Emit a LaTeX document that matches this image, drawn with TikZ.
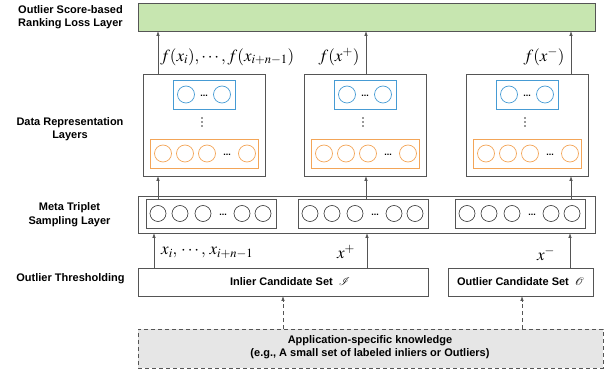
\documentclass[tikz,border=0pt]{standalone}
\usepackage{mathptmx}
\usepackage[no-math]{fontspec}
\setmainfont{Liberation Sans}
\usetikzlibrary{arrows.meta}
\definecolor{lgreen}{RGB}{199,230,176}
\definecolor{bluec}{RGB}{70,155,212}
\definecolor{orangec}{RGB}{243,165,88}
\definecolor{edgec}{RGB}{85,85,85}
\definecolor{dashfill}{RGB}{230,230,230}
\tikzset{
  box/.style={draw=edgec, line width=0.8pt, inner sep=0pt, outer sep=0pt, anchor=north west},
  bcirc/.style={circle, draw=bluec, line width=0.7pt, minimum size=17pt, inner sep=0pt},
  ocirc/.style={circle, draw=orangec, line width=0.7pt, minimum size=17pt, inner sep=0pt},
  kcirc/.style={circle, draw=black!80, line width=0.6pt, minimum size=16pt, inner sep=0pt},
  vdot/.style={circle, fill=black!80, minimum size=1.8pt, inner sep=0pt},
  arr/.style={draw=edgec, line width=0.8pt, -{Latex[length=5pt,width=3.6pt]}},
  darr/.style={arr, dash pattern=on 4pt off 3pt},
  lbl/.style={font=\fontsize{11}{13.5}\selectfont\bfseries, align=center, inner sep=0pt},
  mlbl/.style={font=\fontsize{17}{19}\selectfont, inner sep=0pt},
  dots/.style={font=\fontsize{9}{9}\selectfont\bfseries, inner sep=0pt, anchor=base},
}
\newcommand\rectnode[6]{\node[box,#6, minimum width={(#4)-(#2)}, minimum height={(#5)-(#3)}] (#1) at ({#2},{#3}) {};}
\newcommand\datarep[2]{%
  \rectnode{dr#1}{#2}{74}{#2+122}{176}{}
  \rectnode{bl#1}{#2+30}{80}{#2+92}{109}{draw=bluec}
  \node[bcirc] (bl#1a) at (#2+43,94.5) {};
  \node[bcirc] (bl#1b) at (#2+79,94.5) {};
  \node[dots] (bl#1d) at (#2+61,97) {...};
  \node[vdot] (vd#1a) at (#2+59,118) {};
  \node[vdot] (vd#1b) at (#2+59,122) {};
  \node[vdot] (vd#1c) at (#2+59,126) {};
  \rectnode{or#1}{#2+7}{139}{#2+115}{168}{draw=orangec}
  \node[ocirc] (or#1a) at (#2+20,153.5) {};
  \node[ocirc] (or#1b) at (#2+42,153.5) {};
  \node[ocirc] (or#1c) at (#2+64,153.5) {};
  \node[dots] (or#1d) at (#2+84,156) {...};
  \node[ocirc] (or#1e) at (#2+104,153.5) {};
}
\newcommand\metabox[2]{%
  \rectnode{mt#1}{#2}{199}{#2+130}{228}{}
  \node[kcirc] (mt#1a) at (#2+12,213.5) {};
  \node[kcirc] (mt#1b) at (#2+34,213.5) {};
  \node[kcirc] (mt#1c) at (#2+57,213.5) {};
  \node[dots] (mt#1d) at (#2+77,216) {...};
  \node[kcirc] (mt#1e) at (#2+96,213.5) {};
  \node[kcirc] (mt#1f) at (#2+117,213.5) {};
}
\begin{document}
\begin{tikzpicture}[x=1pt,y=-1pt]
\useasboundingbox (0,0) rectangle (605,371);
% left labels
\node[lbl] (l1) at (70.5,17) {Outlier Score-based\\Ranking Loss Layer};
\node[lbl] (l2) at (70,129) {Data Representation\\Layers};
\node[lbl] (l3) at (69.5,214.5) {Meta Triplet\\Sampling Layer};
\node[lbl] (l4) at (70.5,279) {Outlier Thresholding};
% green loss layer
\rectnode{loss}{138}{3}{595}{31}{fill=lgreen}
% data representation layers
\datarep{1}{143}
\datarep{2}{304}
\datarep{3}{466}
% meta triplet sampling layer
\rectnode{meta}{138}{196}{595}{233}{}
\metabox{1}{146}
\metabox{2}{298}
\metabox{3}{455}
% thresholding
\rectnode{inl}{138}{268}{428}{296}{}
\node[lbl] (inlt) at (290,282) {Inlier Candidate Set \ $\mathcal{I}$};
\rectnode{outl}{448}{268}{593}{296}{}
\node[lbl] (outlt) at (outl.center) {Outlier Candidate Set \ $\mathcal{O}$};
% knowledge
\rectnode{know}{138}{329}{603}{368}{fill=dashfill, dash pattern=on 4pt off 3pt}
\node[lbl] (knowt) at (370,347) {Application-specific knowledge\\(e.g., A small set of labeled inliers or Outliers)};
% x positions of connectors
\coordinate (ca) at (158,0);
\coordinate (cb) at (366,0);
\coordinate (cc) at (571,0);
\coordinate (da) at (154,0);
\coordinate (db) at (367,0);
\coordinate (dc) at (570,0);
\coordinate (ka) at (283,0);
\coordinate (kb) at (522,0);
% arrows
\draw[arr] (dr1.north -| ca) -- (loss.south -| ca);
\draw[arr] (dr2.north -| cb) -- (loss.south -| cb);
\draw[arr] (dr3.north -| cc) -- (loss.south -| cc);
\draw[arr] (mt1.north -| ca) -- (dr1.south -| ca);
\draw[arr] (mt2.north -| cb) -- (dr2.south -| cb);
\draw[arr] (mt3.north -| cc) -- (dr3.south -| cc);
\draw[arr] (inl.north -| da) -- (meta.south -| da);
\draw[arr] (inl.north -| db) -- (meta.south -| db);
\draw[arr] (outl.north -| dc) -- (meta.south -| dc);
\draw[darr] (know.north -| ka) -- (inl.south -| ka);
\draw[darr] (know.north -| kb) -- (outl.south -| kb);
% math labels
\node[mlbl, anchor=west] (fa) at (160,57) {$f(x_i),\cdots,f(x_{i+n-1})$};
\node[mlbl] (fb) at (339,57) {$f(x^{+})$};
\node[mlbl] (fc) at (544,57) {$f(x^{-})$};
\node[mlbl, anchor=west] (xa) at (161,253) {$x_i,\,\cdots,\,x_{i+n-1}$};
\node[mlbl] (xb) at (346,252) {$x^{+}$};
\node[mlbl] (xc) at (546,254) {$x^{-}$};
\end{tikzpicture}
\end{document}
